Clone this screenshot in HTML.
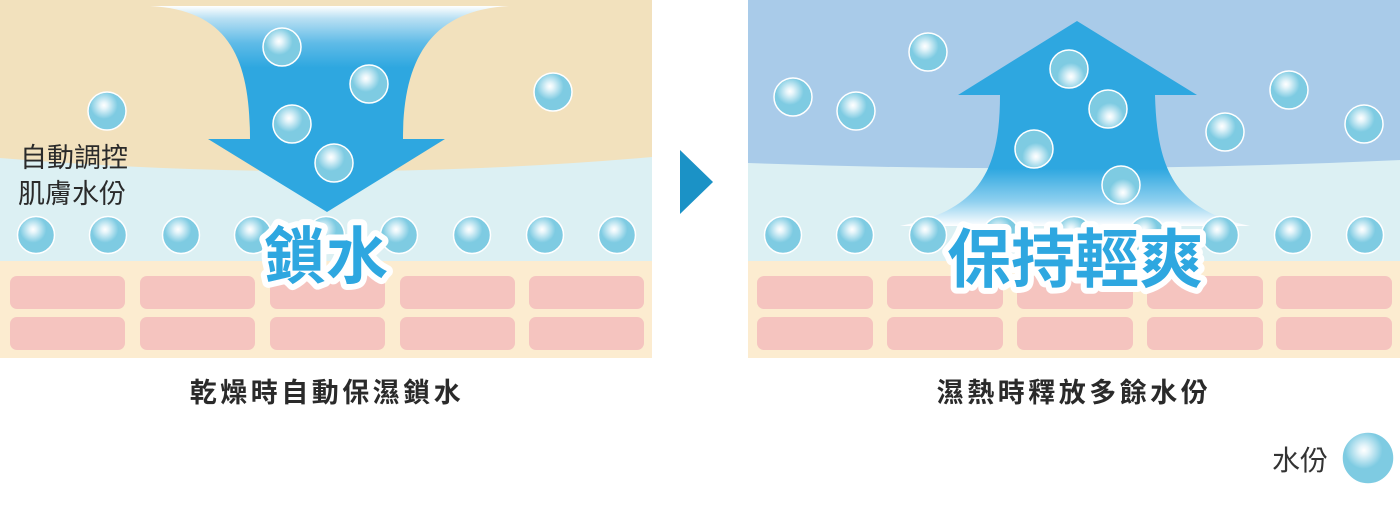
<!DOCTYPE html>
<html><head><meta charset="utf-8"><style>
html,body{margin:0;padding:0;background:#fff;}
svg{display:block;}
text{font-family:"Liberation Sans","Noto Sans CJK TC",sans-serif;}
</style></head><body>
<svg width="1400" height="514" viewBox="0 0 1400 514" xmlns="http://www.w3.org/2000/svg">
<defs>
<radialGradient id="b" cx="0.42" cy="0.35" r="0.6">
<stop offset="0" stop-color="#ffffff"/><stop offset="0.15" stop-color="#e6f5fa"/><stop offset="0.6" stop-color="#7ecbe2"/><stop offset="1" stop-color="#7ecbe2"/></radialGradient>
<radialGradient id="b2" cx="0.55" cy="0.7" r="0.6">
<stop offset="0" stop-color="#ffffff"/><stop offset="0.15" stop-color="#e6f5fa"/><stop offset="0.6" stop-color="#7ecbe2"/><stop offset="1" stop-color="#7ecbe2"/></radialGradient>
<linearGradient id="ad" x1="0" y1="0" x2="0" y2="1">
<stop offset="0" stop-color="#ffffff"/><stop offset="0.06" stop-color="#b9e0f3"/><stop offset="0.18" stop-color="#5fbbe7"/><stop offset="0.3" stop-color="#2ea7e0"/><stop offset="1" stop-color="#2ea7e0"/></linearGradient>
<linearGradient id="au" x1="0" y1="0" x2="0" y2="1">
<stop offset="0" stop-color="#2ea7e0"/><stop offset="0.72" stop-color="#2ea7e0"/><stop offset="0.88" stop-color="#8fd0ef"/><stop offset="1" stop-color="#ffffff"/></linearGradient>
</defs>
<rect x="0" y="0" width="652" height="358" fill="#fcecd0"/>
<rect x="0" y="0" width="652" height="261" fill="#dcf0f3"/>
<path d="M0,0 H652 V157 Q330,185 0,158 Z" fill="#f2e1bd"/>
<g fill="#f5c4bf">
<rect x="10" y="276" width="115" height="33" rx="7"/><rect x="140" y="276" width="115" height="33" rx="7"/><rect x="270" y="276" width="115" height="33" rx="7"/><rect x="400" y="276" width="115" height="33" rx="7"/><rect x="529" y="276" width="115" height="33" rx="7"/>
<rect x="10" y="317" width="115" height="33" rx="7"/><rect x="140" y="317" width="115" height="33" rx="7"/><rect x="270" y="317" width="115" height="33" rx="7"/><rect x="400" y="317" width="115" height="33" rx="7"/><rect x="529" y="317" width="115" height="33" rx="7"/>
</g>
<path d="M150,6 H510 C430,10 403,60 403,139 H445 L327,212 L208,139 H250 C250,60 230,10 150,6 Z" fill="url(#ad)"/>
<g fill="url(#b)" stroke="#fff" stroke-width="1.5">
<circle cx="282" cy="47" r="19"/><circle cx="369" cy="84" r="19"/><circle cx="292" cy="124" r="19"/><circle cx="334" cy="163" r="19"/>
<circle cx="107" cy="111" r="19"/><circle cx="553" cy="92" r="19"/>
<circle cx="36" cy="235" r="18.5"/><circle cx="108" cy="235" r="18.5"/><circle cx="181" cy="235" r="18.5"/><circle cx="253" cy="235" r="18.5"/><circle cx="326" cy="235" r="18.5"/><circle cx="399" cy="235" r="18.5"/><circle cx="472" cy="235" r="18.5"/><circle cx="545" cy="235" r="18.5"/><circle cx="617" cy="235" r="18.5"/>
</g>
<text x="20" y="167" font-size="27" fill="#2a2a2a">自動調控</text>
<text x="18" y="203" font-size="27" fill="#2a2a2a">肌膚水份</text>
<text x="326" y="278" font-size="62" font-weight="bold" text-anchor="middle" fill="#2ea7e0" stroke="#fff" stroke-width="12" stroke-linejoin="round" paint-order="stroke">鎖水</text>
<polygon points="680,150 713,182 680,214" fill="#1b92c6"/>
<rect x="748" y="0" width="652" height="358" fill="#fcecd0"/>
<rect x="748" y="0" width="652" height="261" fill="#dcf0f3"/>
<path d="M748,0 H1400 V160 Q1075,175 748,163 Z" fill="#a9cbe9"/>
<g fill="#f5c4bf">
<rect x="757" y="276" width="116" height="33" rx="7"/><rect x="887" y="276" width="116" height="33" rx="7"/><rect x="1017" y="276" width="116" height="33" rx="7"/><rect x="1147" y="276" width="116" height="33" rx="7"/><rect x="1276" y="276" width="116" height="33" rx="7"/>
<rect x="757" y="317" width="116" height="33" rx="7"/><rect x="887" y="317" width="116" height="33" rx="7"/><rect x="1017" y="317" width="116" height="33" rx="7"/><rect x="1147" y="317" width="116" height="33" rx="7"/><rect x="1276" y="317" width="116" height="33" rx="7"/>
</g>
<path d="M1077,21 L1197,95 H1155 C1157,170 1175,210 1250,226 H900 C980,210 1000,170 1000,95 H958 Z" fill="url(#au)"/>
<g stroke="#fff" stroke-width="1.5">
<g fill="url(#b2)"><circle cx="1069" cy="69" r="19"/><circle cx="1108" cy="109" r="19"/><circle cx="1034" cy="149" r="19"/><circle cx="1121" cy="185" r="19"/></g>
<g fill="url(#b)">
<circle cx="793" cy="97" r="19"/><circle cx="856" cy="111" r="19"/><circle cx="928" cy="52" r="19"/><circle cx="1225" cy="132" r="19"/><circle cx="1289" cy="90" r="19"/><circle cx="1364" cy="124" r="19"/>
<circle cx="783" cy="235" r="18.5"/><circle cx="855" cy="235" r="18.5"/><circle cx="928" cy="235" r="18.5"/><circle cx="1001" cy="235" r="18.5"/><circle cx="1074" cy="235" r="18.5"/><circle cx="1147" cy="235" r="18.5"/><circle cx="1220" cy="235" r="18.5"/><circle cx="1293" cy="235" r="18.5"/><circle cx="1365" cy="235" r="18.5"/>
</g></g>
<text x="1075" y="282" font-size="64" font-weight="bold" text-anchor="middle" fill="#2ea7e0" stroke="#fff" stroke-width="12" stroke-linejoin="round" paint-order="stroke">保持輕爽</text>
<text x="327" y="402" font-size="27" font-weight="bold" text-anchor="middle" fill="#2a2a2a" letter-spacing="3.5">乾燥時自動保濕鎖水</text>
<text x="1074" y="402" font-size="27" font-weight="bold" text-anchor="middle" fill="#2a2a2a" letter-spacing="3.5">濕熱時釋放多餘水份</text>
<text x="1272" y="470" font-size="28" fill="#333">水份</text>
<circle cx="1368" cy="458" r="26" fill="url(#b)" stroke="#fff" stroke-width="1.5"/>
</svg>
</body></html>
